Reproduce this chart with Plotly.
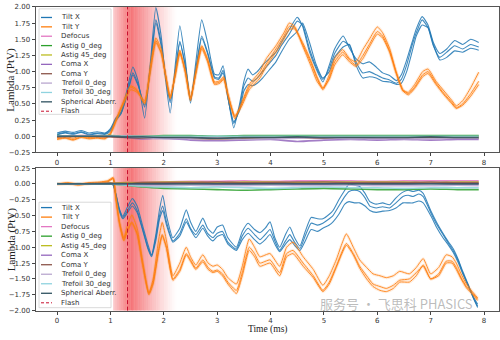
import plotly.graph_objects as go

# ---------------- data ----------------
MODES = ["Tilt X", "Tilt Y", "Defocus", "Astig 0_deg", "Astig 45_deg", "Coma X",
         "Coma Y", "Trefoil 0_deg", "Trefoil 30_deg", "Spherical Aberr."]
COLORS = ["#1f77b4", "#ff7f0e", "#e377c2", "#2ca02c", "#bcbd22", "#9467bd",
          "#8c564b", "#b9a7cf", "#8fd3df", "#2f5260"]
FLASH_T = 1.32
SHADE_START = 1.05
SHADE_PEAK = 1.38
SHADE_END = 2.25
X_TICKS = [0, 1, 2, 3, 4, 5, 6, 7, 8]
Y_TICKS_TOP = [-0.25, 0.0, 0.25, 0.5, 0.75, 1.0, 1.25, 1.5, 1.75, 2.0]
Y_TICKS_BOT = [-2.0, -1.75, -1.5, -1.25, -1.0, -0.75, -0.5, -0.25, 0.0, 0.25]

# top panel - Tilt X (3 repeats)
top_tx_t = [0.0, 0.15, 0.3, 0.45, 0.6, 0.75, 0.9, 1.0, 1.1, 1.2, 1.3, 1.42, 1.52, 1.64, 1.75, 1.85, 1.95,
            2.03, 2.12, 2.22, 2.30, 2.40, 2.50, 2.60, 2.71, 2.82, 2.95, 3.03, 3.11, 3.2, 3.31, 3.42, 3.5,
            3.58, 3.66, 3.75, 3.85, 4.0, 4.1, 4.2, 4.35, 4.5, 4.6, 4.73, 4.85, 4.98, 5.1, 5.2, 5.36, 5.48,
            5.6, 5.73, 5.85, 5.98, 6.1, 6.23, 6.36, 6.45, 6.55, 6.65, 6.73, 6.84, 6.95, 7.05, 7.17, 7.3,
            7.45, 7.6, 7.75, 7.9]
top_tx_1 = [0.05, 0.08, 0.06, 0.09, 0.05, 0.07, 0.05, 0.12, 0.28, 0.38, 0.68, 1.07, 0.85, 0.28, 1.15, 1.99, 1.55,
            0.9, 0.36, 1.15, 1.71, 1.2, 0.51, 1.15, 1.80, 1.45, 0.96, 0.95, 1.09, 0.62, 0.13, 0.5, 0.85,
            1.04, 0.95, 1.0, 1.1, 1.22, 1.3, 1.45, 1.65, 1.84, 1.7, 1.3, 1.05, 0.84, 1.1, 1.35, 1.55, 1.36,
            1.2, 1.12, 1.15, 1.07, 0.98, 0.94, 0.86, 0.95, 1.18, 1.45, 1.66, 1.85, 1.72, 1.45, 1.28, 1.35,
            1.48, 1.42, 1.5, 1.45]
top_tx_2 = [0.03, 0.06, 0.04, 0.07, 0.03, 0.05, 0.04, 0.1, 0.26, 0.36, 0.62, 0.98, 0.8, 0.45, 1.1, 1.80, 1.45,
            0.95, 0.52, 1.05, 1.47, 1.1, 0.55, 1.05, 1.55, 1.3, 0.92, 0.9, 1.02, 0.6, 0.2, 0.45, 0.78,
            0.9, 0.85, 0.9, 1.0, 1.15, 1.25, 1.4, 1.58, 1.78, 1.72, 1.35, 1.08, 0.88, 1.05, 1.28, 1.47, 1.4,
            1.15, 0.98, 1.0, 0.95, 0.9, 0.87, 0.82, 0.88, 1.1, 1.4, 1.6, 1.80, 1.68, 1.4, 1.22, 1.3,
            1.4, 1.35, 1.42, 1.38]
top_tx_3 = [0.02, 0.05, 0.03, 0.06, 0.02, 0.04, 0.03, 0.08, 0.24, 0.35, 0.6, 0.95, 0.78, 0.48, 1.05, 1.75, 1.4,
            0.95, 0.55, 1.0, 1.45, 1.1, 0.6, 1.0, 1.52, 1.28, 0.9, 0.88, 0.98, 0.6, 0.22, 0.4, 0.7,
            0.8, 0.78, 0.82, 0.9, 1.05, 1.15, 1.3, 1.5, 1.62, 1.75, 1.45, 1.12, 0.9, 1.0, 1.22, 1.38, 1.42,
            1.1, 0.9, 0.92, 0.9, 0.85, 0.84, 0.8, 0.82, 1.0, 1.3, 1.55, 1.72, 1.68, 1.42, 1.18, 1.22,
            1.32, 1.3, 1.36, 1.33]

# top panel - Tilt Y (3 repeats)
top_ty_t = [0.0, 0.15, 0.3, 0.45, 0.6, 0.75, 0.9, 1.0, 1.1, 1.2, 1.3, 1.38, 1.5, 1.64, 1.75, 1.85, 1.95, 2.03,
            2.12, 2.22, 2.30, 2.40, 2.50, 2.60, 2.71, 2.82, 2.95, 3.05, 3.12, 3.2, 3.33, 3.45, 3.6, 3.8,
            3.92, 4.1, 4.25, 4.35, 4.45, 4.6, 4.75, 4.87, 4.98, 5.1, 5.2, 5.35, 5.48, 5.6, 5.73, 5.85, 6.0,
            6.1, 6.23, 6.35, 6.48, 6.58, 6.7, 6.85, 6.95, 7.1, 7.25, 7.4, 7.48, 7.6, 7.75, 7.9]
top_ty_1 = [-0.02, 0.0, -0.03, 0.01, -0.02, 0.0, -0.01, 0.05, 0.25, 0.45, 0.65, 0.78, 0.72, 0.5, 1.1, 1.52, 1.35,
            0.95, 0.58, 1.0, 1.33, 1.0, 0.55, 1.0, 1.40, 1.2, 0.84, 0.86, 0.92, 0.66, 0.27, 0.5, 0.8, 1.0,
            1.2, 1.4, 1.6, 1.75, 1.7, 1.4, 1.1, 0.85, 0.74, 0.95, 1.2, 1.34, 1.2, 1.15, 1.34, 1.5, 1.69,
            1.6, 1.36, 1.0, 0.71, 0.68, 0.8, 1.0, 1.04, 0.85, 0.7, 0.55, 0.47, 0.55, 0.75, 0.99]
top_ty_2 = [-0.04, -0.02, -0.05, -0.01, -0.03, -0.02, -0.03, 0.04, 0.24, 0.44, 0.63, 0.76, 0.7, 0.52, 1.05, 1.48,
            1.3, 0.95, 0.6, 0.98, 1.30, 1.0, 0.58, 0.98, 1.38, 1.18, 0.82, 0.84, 0.9, 0.65, 0.3, 0.48, 0.76,
            0.95, 1.12, 1.35, 1.55, 1.70, 1.68, 1.42, 1.15, 0.9, 0.72, 0.9, 1.15, 1.3, 1.18, 1.1, 1.25,
            1.42, 1.62, 1.55, 1.32, 1.0, 0.72, 0.66, 0.76, 0.95, 1.0, 0.82, 0.66, 0.52, 0.44, 0.5, 0.66, 0.85]
top_ty_3 = [-0.05, -0.03, -0.06, -0.02, -0.04, -0.03, -0.04, 0.03, 0.22, 0.42, 0.6, 0.72, 0.68, 0.55, 1.0, 1.45,
            1.28, 0.97, 0.62, 0.95, 1.28, 1.02, 0.6, 0.96, 1.35, 1.15, 0.8, 0.82, 0.88, 0.64, 0.32, 0.45,
            0.72, 0.9, 1.08, 1.3, 1.5, 1.65, 1.66, 1.45, 1.18, 0.92, 0.75, 0.88, 1.1, 1.26, 1.15, 1.08, 1.2,
            1.38, 1.58, 1.52, 1.3, 0.98, 0.7, 0.64, 0.74, 0.92, 0.97, 0.8, 0.64, 0.5, 0.43, 0.48, 0.62, 0.8]

# bottom panel - Tilt X (3 repeats)
bot_tx_t = [0.0, 0.2, 0.4, 0.6, 0.8, 1.0, 1.05, 1.1, 1.17, 1.23, 1.3, 1.41, 1.5, 1.6, 1.7, 1.77, 1.85, 1.92,
            1.98, 2.05, 2.17, 2.3, 2.42, 2.5, 2.6, 2.73, 2.82, 2.92, 3.0, 3.1, 3.2, 3.36, 3.47, 3.58, 3.7,
            3.8, 3.9, 3.99, 4.08, 4.17, 4.28, 4.36, 4.45, 4.55, 4.65, 4.76, 4.88, 4.98, 5.1, 5.17, 5.28,
            5.39, 5.47, 5.57, 5.67, 5.77, 5.86, 5.98, 6.1, 6.23, 6.35, 6.48, 6.58, 6.67, 6.78, 6.86, 7.0,
            7.12, 7.23, 7.32, 7.42, 7.52, 7.6, 7.7, 7.8, 7.88]
bot_tx_1 = [0.0, 0.01, -0.01, 0.01, 0.0, 0.02, 0.0, -0.15, -0.4, -0.51, -0.4, -0.23, -0.35, -0.65, -0.95, -1.12,
            -0.8, -0.4, -0.18, -0.5, -0.85, -0.7, -0.41, -0.6, -0.75, -0.54, -0.7, -0.78, -0.68, -0.65, -0.85,
            -1.0, -0.75, -0.62, -0.72, -0.77, -0.7, -0.6, -0.85, -1.0, -0.8, -0.68, -0.85, -0.98, -0.75,
            -0.53, -0.55, -0.55, -0.48, -0.42, -0.25, -0.1, 0.0, -0.02, -0.04, -0.15, -0.28, -0.32, -0.3,
            -0.33, -0.22, -0.13, -0.1, -0.12, -0.1, -0.15, -0.42, -0.62, -0.78, -0.9, -1.02, -1.2, -1.38,
            -1.58, -1.8, -1.95]
bot_tx_2 = [0.01, 0.0, 0.0, -0.01, 0.01, 0.01, -0.01, -0.16, -0.42, -0.53, -0.45, -0.30, -0.42, -0.7, -1.0,
            -1.13, -0.85, -0.5, -0.35, -0.6, -0.9, -0.78, -0.55, -0.7, -0.8, -0.65, -0.78, -0.85, -0.78,
            -0.75, -0.92, -1.03, -0.82, -0.7, -0.8, -0.88, -0.8, -0.72, -0.9, -1.05, -0.9, -0.8, -0.92,
            -1.02, -0.82, -0.62, -0.65, -0.62, -0.55, -0.5, -0.35, -0.2, -0.12, -0.1, -0.12, -0.22, -0.35,
            -0.38, -0.36, -0.38, -0.3, -0.2, -0.18, -0.2, -0.16, -0.2, -0.45, -0.65, -0.8, -0.92, -1.05,
            -1.22, -1.4, -1.6, -1.8, -1.93]
bot_tx_3 = [-0.01, 0.0, 0.01, 0.0, -0.01, 0.0, -0.02, -0.17, -0.44, -0.55, -0.48, -0.35, -0.45, -0.72, -1.02,
            -1.15, -0.9, -0.55, -0.42, -0.65, -0.92, -0.82, -0.6, -0.72, -0.85, -0.7, -0.82, -0.9, -0.83,
            -0.8, -0.95, -1.05, -0.88, -0.78, -0.88, -0.95, -0.88, -0.8, -0.95, -1.07, -0.95, -0.88, -0.97,
            -1.05, -0.9, -0.72, -0.75, -0.7, -0.65, -0.6, -0.48, -0.32, -0.28, -0.3, -0.3, -0.35, -0.42,
            -0.45, -0.43, -0.42, -0.38, -0.3, -0.3, -0.3, -0.27, -0.3, -0.5, -0.7, -0.85, -0.95, -1.08,
            -1.25, -1.42, -1.6, -1.78, -1.9]

# bottom panel - Tilt Y (3 repeats)
bot_ty_t = [0.0, 0.2, 0.4, 0.6, 0.8, 0.95, 1.05, 1.1, 1.17, 1.25, 1.32, 1.4, 1.5, 1.6, 1.72, 1.8, 1.9, 1.97,
            2.05, 2.17, 2.3, 2.42, 2.5, 2.6, 2.73, 2.83, 2.92, 3.0, 3.1, 3.2, 3.36, 3.47, 3.6, 3.7, 3.8,
            3.99, 4.17, 4.3, 4.42, 4.61, 4.8, 4.98, 5.1, 5.23, 5.42, 5.55, 5.67, 5.8, 5.92, 6.05, 6.17,
            6.3, 6.42, 6.6, 6.73, 6.86, 7.0, 7.15, 7.29, 7.4, 7.48, 7.57, 7.67, 7.78, 7.88]
bot_ty_1 = [0.0, 0.02, 0.0, 0.02, 0.03, 0.05, 0.1, -0.2, -0.6, -0.85, -0.65, -0.49, -0.7, -1.2, -1.72, -1.5,
            -0.9, -0.61, -0.9, -1.45, -1.25, -1.0, -1.15, -1.28, -1.12, -1.25, -1.3, -1.28, -1.35, -1.48,
            -1.58, -1.3, -0.87, -1.0, -1.15, -1.1, -1.3, -1.0, -0.92, -1.15, -1.35, -1.6, -1.45, -1.2,
            -0.79, -1.0, -1.2, -1.32, -1.42, -1.45, -1.48, -1.45, -1.38, -1.42, -1.32, -1.18, -1.42, -1.32,
            -1.12, -1.15, -1.25, -1.42, -1.58, -1.7, -1.8]
bot_ty_2 = [0.0, 0.01, -0.01, 0.01, 0.02, 0.04, 0.09, -0.22, -0.62, -0.88, -0.72, -0.6, -0.78, -1.25, -1.73,
            -1.55, -1.05, -0.8, -1.0, -1.5, -1.35, -1.1, -1.2, -1.33, -1.2, -1.32, -1.38, -1.36, -1.42,
            -1.55, -1.68, -1.4, -1.0, -1.1, -1.25, -1.2, -1.4, -1.1, -1.05, -1.25, -1.45, -1.68, -1.55,
            -1.3, -0.94, -1.1, -1.3, -1.45, -1.58, -1.62, -1.65, -1.6, -1.52, -1.5, -1.4, -1.3, -1.5, -1.42,
            -1.22, -1.22, -1.32, -1.48, -1.62, -1.72, -1.82]
bot_ty_3 = [-0.01, 0.0, -0.02, 0.0, 0.01, 0.03, 0.08, -0.24, -0.64, -0.9, -0.75, -0.62, -0.8, -1.27, -1.75,
            -1.58, -1.08, -0.82, -1.02, -1.52, -1.38, -1.12, -1.22, -1.35, -1.23, -1.35, -1.4, -1.38, -1.45,
            -1.58, -1.73, -1.45, -1.05, -1.15, -1.3, -1.25, -1.45, -1.15, -1.1, -1.3, -1.48, -1.7, -1.58,
            -1.32, -0.97, -1.12, -1.33, -1.5, -1.62, -1.68, -1.7, -1.65, -1.55, -1.55, -1.45, -1.28, -1.5,
            -1.45, -1.25, -1.25, -1.35, -1.5, -1.64, -1.74, -1.84]

# small modes (Defocus ... Spherical), shared time base
small_t = [0.0, 0.5, 1.0, 1.3, 1.6, 2.0, 2.5, 3.0, 3.5, 4.0, 4.5, 5.0, 5.5, 6.0, 6.5, 7.0, 7.5, 7.9]
top_defocus = [0.0, 0.01, 0.0, 0.01, 0.0, -0.01, 0.0, -0.01, 0.0, 0.0, -0.01, 0.0, 0.0, 0.0, 0.0, 0.0, 0.0, 0.0]
top_astig0 = [0.01, 0.0, 0.01, 0.0, 0.0, 0.01, 0.01, 0.0, 0.01, 0.01, 0.01, 0.01, 0.01, 0.01, 0.01, 0.01, 0.01, 0.01]
top_astig45 = [0.0, 0.0, 0.0, -0.01, -0.02, -0.01, -0.01, -0.02, -0.02, -0.01, -0.01, -0.01, -0.01, -0.01, -0.01, -0.01, -0.01, -0.01]
top_comax = [0.0, 0.0, 0.0, -0.02, -0.04, -0.03, -0.06, -0.07, -0.06, -0.05, -0.08, -0.06, -0.05, -0.06, -0.05, -0.06, -0.05, -0.05]
top_comay = [-0.01, 0.0, -0.01, -0.02, -0.03, -0.02, -0.03, -0.04, -0.03, -0.02, -0.02, -0.03, -0.02, -0.03, -0.03, -0.02, -0.03, -0.03]
top_tref0 = [0.0, 0.0, 0.0, 0.0, -0.02, -0.04, -0.03, -0.02, -0.05, -0.04, -0.03, -0.02, -0.04, -0.03, -0.04, -0.04, -0.03, -0.03]
top_tref30 = [0.0, 0.0, 0.0, 0.0, 0.0, 0.0, 0.0, 0.0, 0.0, 0.0, 0.0, 0.0, 0.0, 0.0, 0.0, 0.0, 0.0, 0.0]
top_spher = [0.0, 0.0, 0.0, -0.01, -0.01, -0.02, -0.02, -0.03, -0.02, -0.02, -0.01, -0.02, -0.02, -0.02, -0.02, -0.01, -0.02, -0.02]
bot_defocus = [0.0, 0.0, 0.01, 0.02, 0.03, 0.03, 0.04, 0.04, 0.05, 0.04, 0.05, 0.05, 0.05, 0.04, 0.05, 0.05, 0.05, 0.05]
bot_astig0 = [0.0, 0.0, 0.0, -0.02, -0.05, -0.07, -0.08, -0.09, -0.1, -0.09, -0.08, -0.07, -0.08, -0.09, -0.09, -0.08, -0.09, -0.09]
bot_astig45 = [0.0, 0.0, 0.01, 0.02, 0.02, 0.03, 0.03, 0.02, 0.03, 0.03, 0.02, 0.03, 0.03, 0.03, 0.03, 0.02, 0.03, 0.03]
bot_comax = [0.0, 0.0, 0.0, 0.0, 0.0, 0.0, 0.01, 0.0, 0.0, 0.01, 0.0, 0.0, 0.01, 0.0, 0.0, 0.01, 0.0, 0.0]
bot_comay = [0.0, 0.0, 0.01, 0.01, 0.02, 0.02, 0.02, 0.03, 0.02, 0.02, 0.03, 0.03, 0.02, 0.02, 0.02, 0.03, 0.02, 0.02]
bot_tref0 = [0.0, 0.0, 0.0, -0.01, -0.02, -0.03, -0.02, -0.03, -0.03, -0.02, -0.03, -0.03, -0.02, -0.03, -0.03, -0.03, -0.02, -0.03]
bot_tref30 = [0.0, 0.0, 0.0, -0.02, -0.04, -0.05, -0.06, -0.05, -0.06, -0.07, -0.06, -0.05, -0.06, -0.06, -0.07, -0.06, -0.06, -0.06]
bot_spher = [0.0] * 18

# ---------------- figure ----------------
fig = go.Figure()

def add_line(x, y, color, row, width=1.0, opacity=0.85):
    ax = "" if row == 1 else "2"
    fig.add_trace(go.Scatter(x=x, y=y, mode="lines", xaxis="x" + ax, yaxis="y" + ax,
                             line=dict(color=color, width=width, shape="spline", smoothing=0.5),
                             opacity=opacity, showlegend=False, hoverinfo="skip"))

panels = [
    (1, top_tx_t, [top_tx_1, top_tx_2, top_tx_3], top_ty_t, [top_ty_1, top_ty_2, top_ty_3],
     [top_defocus, top_astig0, top_astig45, top_comax, top_comay, top_tref0, top_tref30, top_spher]),
    (2, bot_tx_t, [bot_tx_1, bot_tx_2, bot_tx_3], bot_ty_t, [bot_ty_1, bot_ty_2, bot_ty_3],
     [bot_defocus, bot_astig0, bot_astig45, bot_comax, bot_comay, bot_tref0, bot_tref30, bot_spher]),
]
for row, txt, txs, tyt, tys, smalls in panels:
    for ys in txs:
        add_line(txt, ys, COLORS[0], row, width=1.1, opacity=0.85)
    for ys in tys:
        add_line(tyt, ys, COLORS[1], row, width=3.0, opacity=0.14)
    for ys in tys:
        add_line(tyt, ys, COLORS[1], row, width=1.0, opacity=0.85)
    for k, ys in enumerate(smalls):
        add_line(small_t, ys, COLORS[2 + k], row, width=1.6, opacity=0.85)

# red flash shading gradient + flash line
shapes = []
n = 48
for i in range(n):
    a = SHADE_START + (SHADE_END - SHADE_START) * i / n
    b = SHADE_START + (SHADE_END - SHADE_START) * (i + 1) / n
    m = 0.5 * (a + b)
    if m <= SHADE_PEAK:
        op = 0.22 + 0.43 * (m - SHADE_START) / (SHADE_PEAK - SHADE_START)
    else:
        f = (SHADE_END - m) / (SHADE_END - SHADE_PEAK)
        op = 0.65 * f ** 1.3
    for ax in ["", "2"]:
        shapes.append(dict(type="rect", xref="x" + ax, yref="y" + ax + " domain", x0=a, x1=b + 0.002,
                           y0=0, y1=1, fillcolor="rgb(240,40,45)", opacity=op,
                           line=dict(width=0), layer="below"))
for ax in ["", "2"]:
    shapes.append(dict(type="line", xref="x" + ax, yref="y" + ax + " domain", x0=FLASH_T, x1=FLASH_T,
                       y0=0, y1=1, line=dict(color="#c8102e", width=1, dash="4px,2.5px"), layer="above"))

# legends (drawn manually, matplotlib-like compact layout)
W, H = 500.0, 340.0
annotations = []
legend_specs = [(39, 5, 111, 113, 13.8, 9.6), (39, 203, 111, 311, 208.5, 9.75)]
labels = MODES + ["Flash"]
for (lx0, ly0, lx1, ly1, first, step) in legend_specs:
    shapes.append(dict(type="rect", xref="paper", yref="paper", x0=lx0 / W, x1=lx1 / W,
                       y0=1 - ly1 / H, y1=1 - ly0 / H, fillcolor="rgba(255,255,255,0.82)",
                       line=dict(color="#d0d0d0", width=0.8), layer="above"))
    for i, lab in enumerate(labels):
        yy = 1 - (first + i * step) / H
        if lab == "Flash":
            ln = dict(color="#c8102e", width=1, dash="3px,2px")
        else:
            ln = dict(color=COLORS[i], width=1.3)
        shapes.append(dict(type="line", xref="paper", yref="paper", x0=41 / W, x1=52 / W,
                           y0=yy, y1=yy, line=ln, layer="above"))
        annotations.append(dict(x=59 / W, y=yy, xref="paper", yref="paper", text=lab, showarrow=False,
                                xanchor="left", yanchor="middle",
                                font=dict(family="DejaVu Sans", size=7, color="#333333")))

# axis titles
for yc in [(1 - 77.5 / H), (1 - 241 / H)]:
    annotations.append(dict(x=11 / W, y=yc, xref="paper", yref="paper", text="Lambda (PtV)",
                            textangle=-90, showarrow=False, xanchor="center", yanchor="middle",
                            font=dict(family="Liberation Serif", size=11, color="#222222")))
annotations.append(dict(x=267.5 / W, y=0, xref="paper", yref="paper", text="Time (ms)",
                        showarrow=False, xanchor="center", yanchor="bottom", borderpad=0,
                        font=dict(family="Liberation Serif", size=9.5, color="#222222")))
# watermark (faint, kept just above the tick labels)
annotations.append(dict(x=318 / W, y=1 - 307 / H, xref="paper", yref="paper",
                        text="服务号 · 飞思科 PHASICS", showarrow=False, xanchor="left", yanchor="middle",
                        font=dict(family="Noto Sans CJK SC", size=13, color="rgba(130,130,130,0.55)")))

def fmt(v):
    s = "%.2f" % v
    return s.replace("-", "\u2212")

xcommon = dict(range=[-0.395, 8.28], tickmode="array", tickvals=X_TICKS,
               ticktext=[str(v) for v in X_TICKS], ticks="outside", ticklen=3, tickwidth=0.8,
               tickcolor="#444", tickfont=dict(family="DejaVu Sans", size=7, color="#333"),
               showline=True, mirror=True, linecolor="#555", linewidth=0.9, showgrid=False,
               zeroline=False, domain=[36 / W, 499 / W])
ycommon = dict(tickmode="array", ticks="outside", ticklen=3.5, tickwidth=0.8, tickcolor="#444",
               tickfont=dict(family="DejaVu Sans", size=7, color="#333"), showline=True, mirror=True,
               linecolor="#555", linewidth=0.9, showgrid=False, zeroline=False)

fig.update_layout(
    width=500, height=340, margin=dict(l=0, r=0, t=0, b=0),
    paper_bgcolor="white", plot_bgcolor="white", showlegend=False,
    xaxis=dict(**xcommon, anchor="y"),
    xaxis2=dict(**xcommon, anchor="y2"),
    yaxis=dict(**ycommon, anchor="x", range=[-0.25, 2.0], tickvals=Y_TICKS_TOP,
               ticktext=[fmt(v) for v in Y_TICKS_TOP], domain=[1 - 152 / H, 1 - 3 / H]),
    yaxis2=dict(**ycommon, anchor="x2", range=[-2.0, 0.25], tickvals=Y_TICKS_BOT,
                ticktext=[fmt(v) for v in Y_TICKS_BOT], domain=[1 - 314 / H, 1 - 168 / H]),
    shapes=shapes, annotations=annotations,
)

fig.write_html("out.html")
